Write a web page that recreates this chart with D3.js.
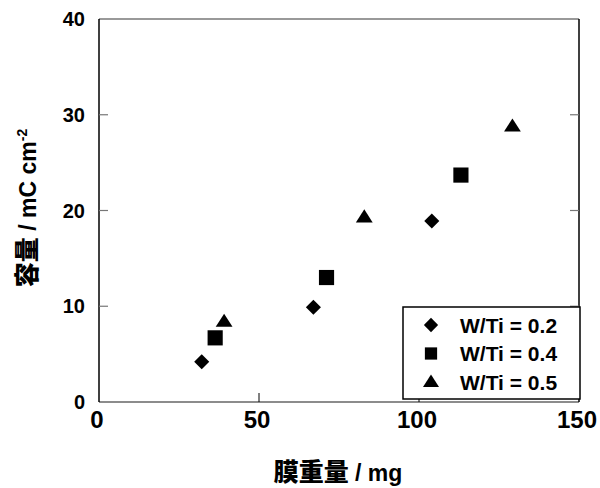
<!DOCTYPE html>
<html>
<head>
<meta charset="utf-8">
<script src="https://cdn.jsdelivr.net/npm/d3@7"></script>
<style>
  body { margin: 0; background: #fff; }
  text { font-family: "Liberation Sans", Arial, "Noto Sans CJK JP", sans-serif; font-weight: bold; fill: #000; }
  .cjk { font-family: "Noto Sans CJK JP", sans-serif; font-weight: 900; }
</style>
</head>
<body>
<svg id="chart" width="600" height="488"></svg>
<script>
// series: film mass (mg) vs capacity (mC cm^-2)
const seriesNames = ["W/Ti = 0.2", "W/Ti = 0.4", "W/Ti = 0.5"];
const seriesShapes = ["diamond", "square", "triangle"];
const massW02 = [32.1, 67.0, 104.0];
const capW02 = [4.2, 9.9, 18.9];
const massW04 = [36.3, 71.1, 113.1];
const capW04 = [6.7, 13.0, 23.7];
const massW05 = [39.1, 82.9, 129.2];
const capW05 = [8.4, 19.3, 28.8];
const xTicks = [0, 50, 100, 150];
const yTicks = [0, 10, 20, 30, 40];

const svg = d3.select("#chart");
const pl = 99, pr = 579, pt = 19, pb = 402;

const x = d3.scaleLinear().domain([0, 150]).range([pl, pr]);
const y = d3.scaleLinear().domain([0, 40]).range([pb, pt]);

// frame: top & bottom gray, left & right black
svg.append("line").attr("x1", pl).attr("x2", pr).attr("y1", pt).attr("y2", pt)
    .attr("stroke", "#777").attr("stroke-width", 1.5);
svg.append("line").attr("x1", pl).attr("x2", pr).attr("y1", pb).attr("y2", pb)
    .attr("stroke", "#666").attr("stroke-width", 1.5);
svg.append("line").attr("x1", pl).attr("x2", pl).attr("y1", pt).attr("y2", pb)
    .attr("stroke", "#000").attr("stroke-width", 1.5);
svg.append("line").attr("x1", pr).attr("x2", pr).attr("y1", pt).attr("y2", pb)
    .attr("stroke", "#000").attr("stroke-width", 1.5);

// inward ticks
const tl = 9;
svg.append("g").selectAll("line").data(yTicks.slice(1, -1)).join("line")
    .attr("x1", pl).attr("x2", pl + tl).attr("y1", d => y(d)).attr("y2", d => y(d))
    .attr("stroke", "#777").attr("stroke-width", 1.2);
svg.append("g").selectAll("line").data(yTicks.slice(1, -1)).join("line")
    .attr("x1", pr - tl).attr("x2", pr).attr("y1", d => y(d)).attr("y2", d => y(d))
    .attr("stroke", "#777").attr("stroke-width", 1.2);
svg.append("g").selectAll("line").data(xTicks.slice(1, -1)).join("line")
    .attr("x1", d => x(d)).attr("x2", d => x(d)).attr("y1", pb - tl).attr("y2", pb)
    .attr("stroke", "#000").attr("stroke-width", 1);

// tick labels
svg.append("g").selectAll("text").data(yTicks).join("text")
    .attr("x", pl - 14).attr("y", d => y(d)).attr("dy", "0.36em")
    .attr("text-anchor", "end").attr("font-size", 20)
    .text(d => d);
svg.append("g").selectAll("text").data(xTicks).join("text")
    .attr("x", d => x(d) - 2).attr("y", pb + 26)
    .attr("text-anchor", "middle").attr("font-size", 24)
    .text(d => d);

// axis titles
const xt = svg.append("text").attr("x", 338).attr("y", 481).attr("text-anchor", "middle").attr("font-size", 23);
xt.append("tspan").attr("class", "cjk").attr("font-size", 25).text("膜重量");
xt.append("tspan").text(" / mg");

const yt = svg.append("text").attr("transform", "translate(36,208) rotate(-90)")
    .attr("text-anchor", "middle").attr("font-size", 23);
yt.append("tspan").attr("class", "cjk").attr("font-size", 25).text("容量");
yt.append("tspan").text(" / mC cm");
yt.append("tspan").attr("dy", -9).attr("font-size", 14).text("-2");

// markers; a flat triangle like the original's
const flatTriangle = {
  draw(ctx, size) {
    const w = Math.sqrt(size * 2 / 0.78), h = w * 0.78;
    ctx.moveTo(0, -h * 0.6);
    ctx.lineTo(w / 2, h * 0.4);
    ctx.lineTo(-w / 2, h * 0.4);
    ctx.closePath();
  }
};
const symTypes = { diamond: d3.symbolDiamond2, square: d3.symbolSquare, triangle: flatTriangle };
const symSize = { diamond: 145, square: 230, triangle: 110 };
const legendSize = { diamond: 130, square: 150, triangle: 100 };
const series = [
  { shape: "diamond", xs: massW02, ys: capW02 },
  { shape: "square", xs: massW04, ys: capW04 },
  { shape: "triangle", xs: massW05, ys: capW05 }
];
series.forEach(s => {
  const path = d3.symbol().type(symTypes[s.shape]).size(symSize[s.shape])();
  svg.append("g").selectAll("path").data(s.xs.map((v, i) => [v, s.ys[i]])).join("path")
      .attr("d", path)
      .attr("transform", d => `translate(${x(d[0])},${y(d[1])})`)
      .attr("fill", "#000");
});

// legend
const lg = svg.append("g");
lg.append("rect").attr("x", 403).attr("y", 307).attr("width", 177).attr("height", 92)
    .attr("fill", "#fff").attr("stroke", "#000").attr("stroke-width", 1.5);
seriesNames.forEach((name, i) => {
  const cy = 325 + i * 28.5;
  const path = d3.symbol().type(symTypes[seriesShapes[i]]).size(legendSize[seriesShapes[i]])();
  lg.append("path").attr("d", path)
      .attr("transform", `translate(431,${cy})`).attr("fill", "#000");
  lg.append("text").attr("x", 460).attr("y", cy).attr("dy", "0.36em")
      .attr("font-size", 21).text(name);
});
</script>
</body>
</html>
